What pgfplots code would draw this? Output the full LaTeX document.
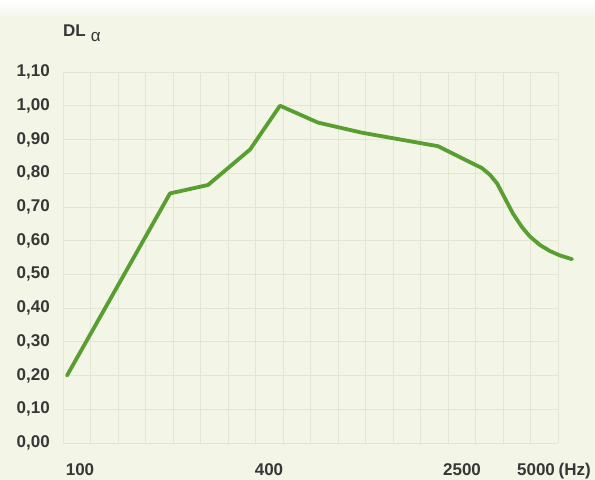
\documentclass[border=0pt]{standalone}
\usepackage{fontspec}
\setmainfont{Liberation Sans}
\usepackage{pgfplots}
\pgfplotsset{compat=1.18}
\definecolor{bgcol}{RGB}{243,245,231}
\definecolor{gridcol}{RGB}{226,230,212}
\definecolor{curve}{RGB}{88,158,48}
\definecolor{txt}{RGB}{55,55,55}
\newcommand{\lab}{\fontsize{17bp}{20bp}\selectfont\bfseries\color{txt}}
\begin{document}
\begin{tikzpicture}
% page background, pixel-sized (1px = 1bp)
\fill[bgcol] (0,0) rectangle (595bp,480bp);
\shade[top color=white, bottom color=bgcol] (0,462bp) rectangle (595bp,480bp);
\begin{axis}[
  at={(63bp,37bp)}, anchor=south west,
  scale only axis, width=495bp, height=371bp,
  xmin=63, xmax=558, ymin=0, ymax=1.1,
  clip=false,
  axis line style={draw=none},
  tick style={draw=none},
  ytick={0,0.1,...,1.1},
  xtick={80,269,462,536},
  xticklabels={100,400,2500,5000\rlap{\kern-1bp{} (Hz)}},
  minor xtick={63,90.5,...,558},
  xmajorgrids=false, xminorgrids=true, ymajorgrids=true,
  major grid style={gridcol, line width=0.8bp},
  minor grid style={gridcol, line width=0.8bp},
  /pgf/number format/.cd, fixed, fixed zerofill, precision=2, use comma, assume math mode=true,
  /pgfplots/.cd,
  yticklabel style={font=\lab, anchor=east, inner sep=0pt, xshift=-13bp},
  xticklabel style={font=\lab, anchor=base, inner sep=0pt, yshift=-32bp},
]
\addplot[curve, line width=3.8bp, line join=round, line cap=round] coordinates {
  (67,0.20) (170,0.74) (208,0.765) (250,0.87) (280,1.00) (318,0.95)
  (362,0.92) (438,0.88) (482,0.815) (490,0.795) (497,0.77) (505,0.725)
  (513,0.68) (522,0.64) (530,0.612) (540,0.587) (550,0.569) (560,0.556) (572,0.545)
};
\end{axis}
\node[anchor=base west, inner sep=0pt, font=\fontsize{17bp}{20bp}\selectfont\bfseries\color{txt}]
  at (63bp,443bp) {DL\kern5bp\raisebox{-5bp}{\fontsize{17bp}{20bp}\selectfont\mdseries α}};
\pgfresetboundingbox
\useasboundingbox (0,0) rectangle (595bp,480bp);
\end{tikzpicture}
\end{document}
